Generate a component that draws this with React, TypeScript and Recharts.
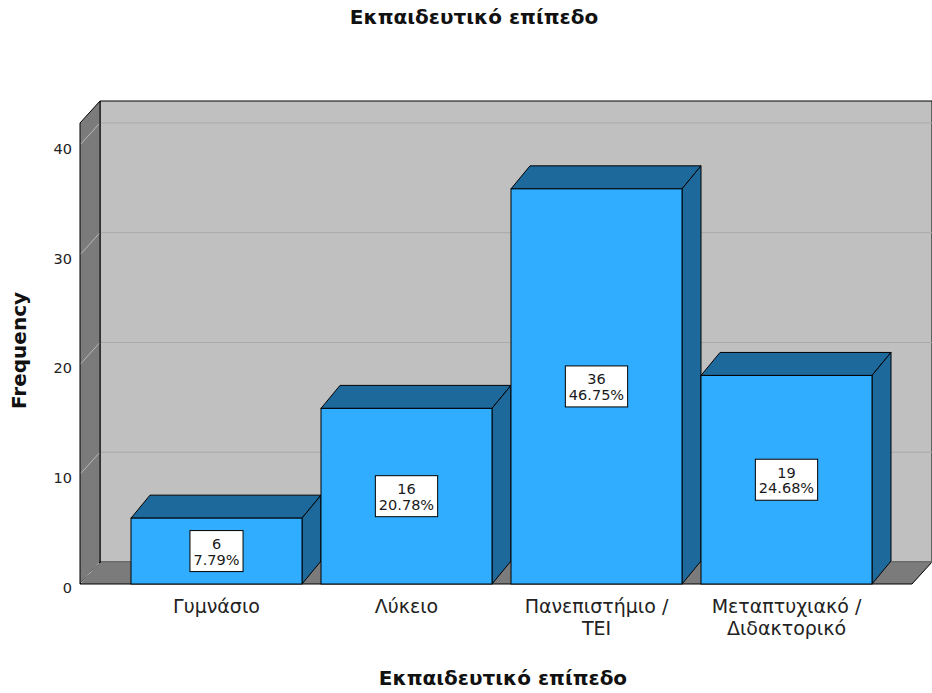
import React from 'react';
import { BarChart, Bar, XAxis, YAxis, ReferenceArea, LabelList } from 'recharts';

const categories = ['Γυμνάσιο', 'Λύκειο', 'Πανεπιστήμιο / ΤΕΙ', 'Μεταπτυχιακό / Διδακτορικό'];
const categoryLines = [['Γυμνάσιο'], ['Λύκειο'], ['Πανεπιστήμιο /', 'ΤΕΙ'], ['Μεταπτυχιακό /', 'Διδακτορικό']];
const frequencies = [6, 16, 36, 19];
const percents = ['7.79%', '20.78%', '46.75%', '24.68%'];
const yTicks = [0, 10, 20, 30, 40];
const yDomain = [0, 42];

const data = categories.map((c, i) => ({ name: c, value: frequencies[i], wall: 0.5 }));

const FONT = '"DejaVu Sans", Verdana, sans-serif';
const FRONT = '#31adff';
const DARK = '#1e699c';
const WALL = '#c0c0c0';
const SIDEWALL = '#7b7b7b';
const BDX = 19, BDY = -23;
const WDX = 20, WDY = -22;

const measure = (() => {
  let ctx: CanvasRenderingContext2D | null = null;
  return (t: string, font: string) => {
    if (!ctx) ctx = document.createElement('canvas').getContext('2d');
    if (!ctx) return t.length * 8;
    ctx.font = font;
    return ctx.measureText(t).width;
  };
})();

const Bar3D = (props: any) => {
  const { x, y, width, height } = props;
  return (
    <g>
      <polygon points={`${x},${y} ${x + BDX},${y + BDY} ${x + width + BDX},${y + BDY} ${x + width},${y}`} fill={DARK} stroke="#000" strokeWidth={1} />
      <polygon points={`${x + width},${y} ${x + width + BDX},${y + BDY} ${x + width + BDX},${y + height + BDY} ${x + width},${y + height}`} fill={DARK} stroke="#000" strokeWidth={1} />
      <rect x={x} y={y} width={width} height={height} fill={FRONT} stroke="#000" strokeWidth={1} />
    </g>
  );
};

const Walls = (props: any) => {
  const { x, y, width, height } = props;
  const b = y + height;
  const r = x + width;
  return (
    <g>
      <polygon points={`${x + WDX},${y + WDY} ${r + WDX},${y + WDY} ${r + WDX},${b + WDY} ${x + WDX},${b + WDY}`} fill={WALL} stroke="#000" strokeWidth={1} />
      <polygon points={`${x},${y} ${x + WDX},${y + WDY} ${x + WDX},${b + WDY} ${x},${b}`} fill={SIDEWALL} stroke="#000" strokeWidth={1} />
      <polygon points={`${x},${b} ${x + WDX},${b + WDY} ${r + WDX},${b + WDY} ${r},${b}`} fill={SIDEWALL} stroke="#000" strokeWidth={1} />
    </g>
  );
};

const GridLine = (props: any) => {
  const { x, y, width } = props;
  return (
    <g>
      <line x1={x + WDX + 1} y1={y + WDY} x2={x + width + WDX} y2={y + WDY} stroke="#a9a9a9" strokeWidth={1} />
      <line x1={x + 1} y1={y - 1} x2={x + WDX - 1} y2={y + WDY + 1} stroke="#b8b8b8" strokeWidth={1} />
    </g>
  );
};

const renderLabel = (props: any) => {
  const { x, y, width, height, index } = props;
  const cx = x + width / 2;
  const cy = y + height / 2;
  const fs = 14.5;
  const font = `${fs}px ${FONT}`;
  const t1 = String(frequencies[index]);
  const t2 = percents[index];
  const w = Math.max(measure(t1, font), measure(t2, font)) + 7;
  const h = 41;
  return (
    <g>
      <rect x={cx - w / 2} y={cy - h / 2} width={w} height={h} fill="#fff" stroke="#000" strokeWidth={1} />
      <text x={cx} y={cy - 2} textAnchor="middle" fontFamily={FONT} fontSize={fs} fill="#1a1a1a">{t1}</text>
      <text x={cx} y={cy + 13.5} textAnchor="middle" fontFamily={FONT} fontSize={fs} fill="#1a1a1a">{t2}</text>
    </g>
  );
};

const XTick = (props: any) => {
  const { x, y, index } = props;
  const lines = categoryLines[index] || [];
  return (
    <g>
      {lines.map((l, i) => (
        <text key={i} x={x} y={y + 21 + i * 22} textAnchor="middle" fontFamily={FONT} fontSize={19} fill="#222">{l}</text>
      ))}
    </g>
  );
};

const YTick = (props: any) => {
  const { x, y, payload } = props;
  return (
    <text x={x} y={y + 9} textAnchor="end" fontFamily={FONT} fontSize={14.5} fill="#222">{payload.value}</text>
  );
};

export default function App() {
  return (
    <div style={{ position: 'absolute', left: 0, top: 0, width: 932, height: 693, background: '#fff' }}>
      <div style={{ position: 'absolute', left: 474, top: 5, transform: 'translateX(-50%)', whiteSpace: 'nowrap', fontFamily: FONT, fontWeight: 'bold', fontSize: 20, color: '#111' }}>
        Εκπαιδευτικό επίπεδο
      </div>
      <BarChart width={932} height={693} data={data} margin={{ top: 123, right: 20, bottom: 0, left: 0 }} barCategoryGap="5%">
        <XAxis xAxisId="wall" dataKey="wall" type="number" domain={[0, 1]} allowDataOverflow hide />
        <ReferenceArea xAxisId="wall" x1={0} x2={1} y1={yDomain[0]} y2={yDomain[1]} shape={<Walls />} ifOverflow="visible" />
        {yTicks.map((v) => (
          <ReferenceArea key={v} xAxisId="wall" x1={0} x2={1} y1={v} y2={v} shape={<GridLine />} ifOverflow="visible" />
        ))}
        <XAxis dataKey="name" type="category" height={109} axisLine={false} tickLine={false} interval={0} padding={{ left: 41.5, right: 30.5 }} tick={<XTick />}
          label={{ content: (p: any) => { const vb = p.viewBox; return <text x={vb.x + vb.width / 2 + 7} y={vb.y + 101} textAnchor="middle" fontFamily={FONT} fontWeight="bold" fontSize={20} fill="#111">Εκπαιδευτικό επίπεδο</text>; } }} />
        <YAxis width={80} domain={yDomain} ticks={yTicks} axisLine={false} tickLine={false} tick={<YTick />}
          label={{ content: (p: any) => { const vb = p.viewBox; const cx = 26; const cy = vb.y + vb.height / 2 - 3; return <text x={cx} y={cy} transform={`rotate(-90 ${cx} ${cy})`} textAnchor="middle" fontFamily={FONT} fontWeight="bold" fontSize={20} fill="#111">Frequency</text>; } }} />
        <Bar dataKey="value" shape={<Bar3D />} isAnimationActive={false}>
          <LabelList dataKey="value" content={renderLabel} />
        </Bar>
      </BarChart>
    </div>
  );
}
